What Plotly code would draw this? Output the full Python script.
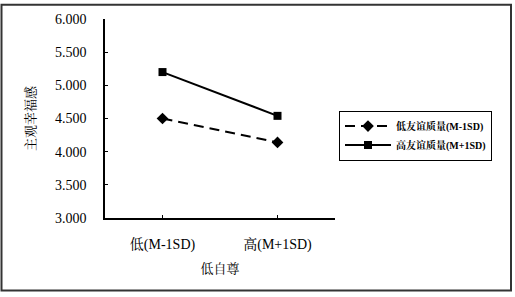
import plotly.graph_objects as go

categories = ["低(M-1SD)", "高(M+1SD)"]
low_friend = [4.50, 4.14]
high_friend = [5.20, 4.54]
series_names = ["低友谊质量(M-1SD)", "高友谊质量(M+1SD)"]
y_ticks = [3.0, 3.5, 4.0, 4.5, 5.0, 5.5, 6.0]

serif = "Times New Roman, Liberation Serif, Noto Serif CJK SC, Noto Sans CJK SC, serif"

fig = go.Figure()
fig.add_trace(go.Scatter(
    x=categories, y=low_friend, name=series_names[0], mode="lines+markers",
    line=dict(color="black", width=2, dash="10px,6px"),
    marker=dict(symbol="diamond", size=9, color="black"),
))
fig.add_trace(go.Scatter(
    x=categories, y=high_friend, name=series_names[1], mode="lines+markers",
    line=dict(color="black", width=2),
    marker=dict(symbol="square", size=8, color="black"),
))

L, R, T, B = 105, 180, 16, 79
W, H = 515, 297
pw, ph = W - L - R, H - T - B

def px_x(p):
    return (p - L) / pw

def px_y(p):
    return (H - B - p) / ph

fig.update_layout(
    width=W, height=H,
    margin=dict(l=L, r=R, t=T, b=B),
    paper_bgcolor="white", plot_bgcolor="white",
    font=dict(family=serif, size=14, color="black"),
    showlegend=True,
    legend=dict(
        x=px_x(339), y=px_y(109), xanchor="left", yanchor="top",
        bordercolor="black", borderwidth=1, bgcolor="white",
        font=dict(family=serif, size=10, color="black", weight="bold"),
        itemwidth=46,
    ),
    xaxis=dict(
        type="category", range=[-0.5, 1.5],
        showline=True, linecolor="black", linewidth=1.5,
        ticks="inside", ticklen=3, tickcolor="black",
        showgrid=False, zeroline=False,
        tickfont=dict(family=serif, size=14),
        ticklabelstandoff=12,
        title=dict(text="低自尊", font=dict(family=serif, size=13, color="black"), standoff=12),
    ),
    yaxis=dict(
        range=[3, 6], tickvals=y_ticks, tickformat=".3f",
        showline=True, linecolor="black", linewidth=1.5,
        ticks="inside", ticklen=3, tickcolor="black",
        showgrid=False, zeroline=False,
        tickfont=dict(family=serif, size=14),
        ticklabelstandoff=14,
        title=dict(text="主观幸福感", font=dict(family=serif, size=13, color="black"), standoff=16),
    ),
)

fig.add_shape(
    type="rect", xref="paper", yref="paper",
    x0=px_x(1.5), x1=px_x(511), y0=px_y(291.5), y1=px_y(1.5),
    line=dict(color="#333333", width=2), fillcolor="rgba(0,0,0,0)", layer="below",
)

fig.write_html(
    "out.html",
    config={"displayModeBar": False},
    post_script="document.body.style.margin='0';document.body.style.overflow='hidden';",
)
